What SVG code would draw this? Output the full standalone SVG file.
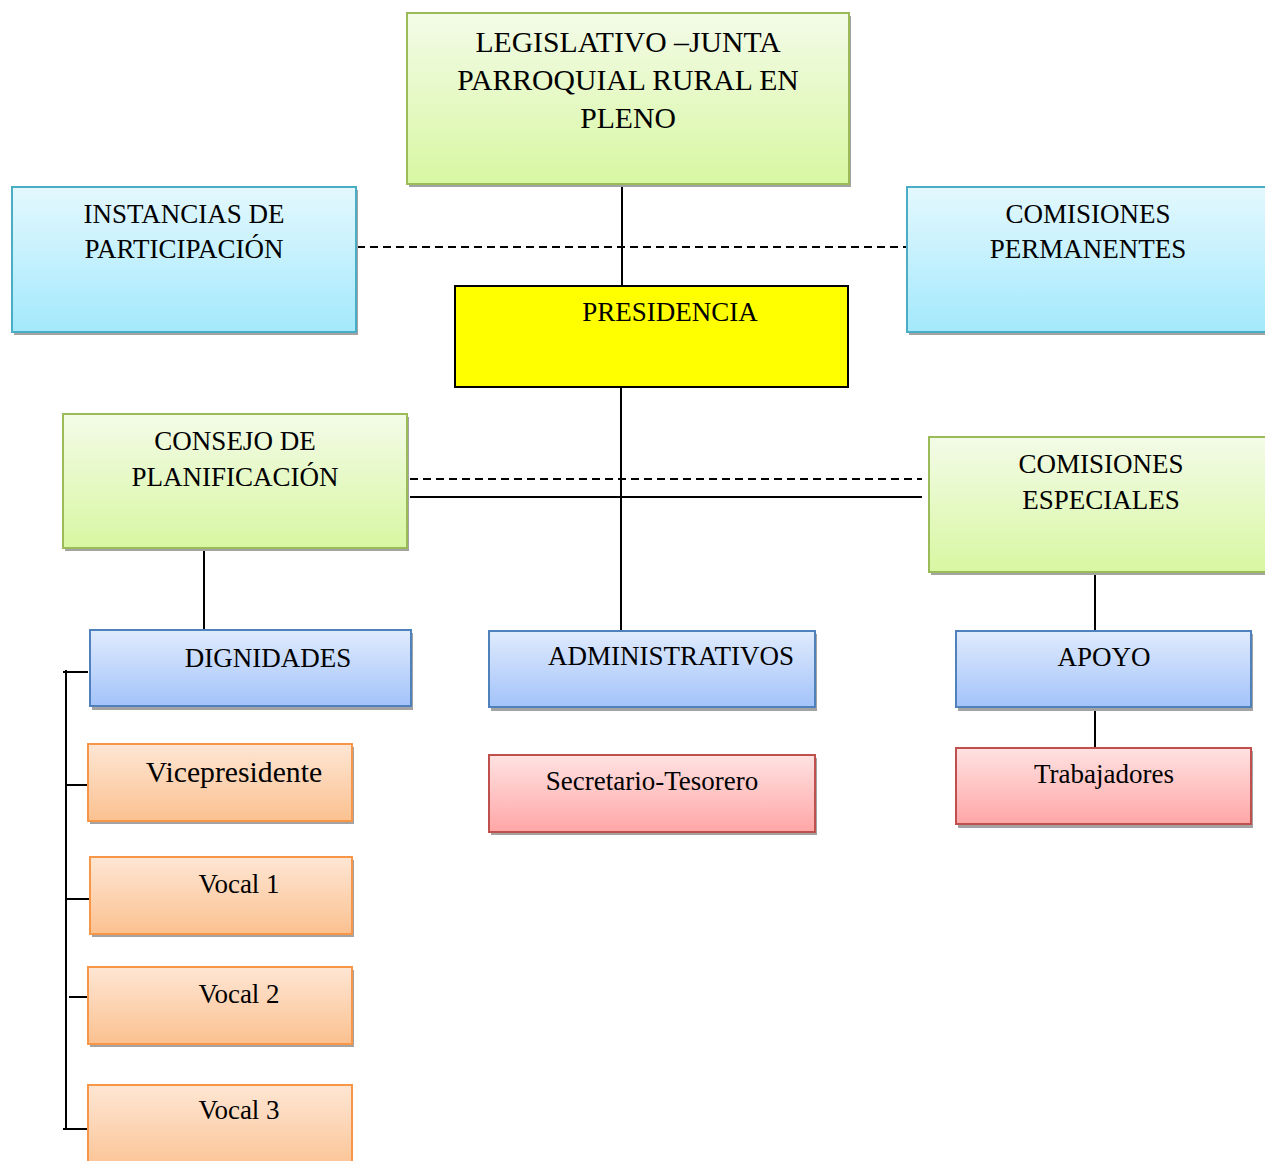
<svg xmlns="http://www.w3.org/2000/svg" width="1265" height="1161" viewBox="0 0 1265 1161">
<defs>
<linearGradient id="gGreen" x1="0" y1="0" x2="0" y2="1"><stop offset="0" stop-color="#f3fbe8"/><stop offset="1" stop-color="#d8f7a2"/></linearGradient>
<linearGradient id="gCyan" x1="0" y1="0" x2="0" y2="1"><stop offset="0" stop-color="#e4f8fe"/><stop offset="1" stop-color="#a3e9fc"/></linearGradient>
<linearGradient id="gBlue" x1="0" y1="0" x2="0" y2="1"><stop offset="0" stop-color="#e0ebfd"/><stop offset="1" stop-color="#a3c3fa"/></linearGradient>
<linearGradient id="gOrange" x1="0" y1="0" x2="0" y2="1"><stop offset="0" stop-color="#fee6d4"/><stop offset="1" stop-color="#fbc190"/></linearGradient>
<linearGradient id="gRed" x1="0" y1="0" x2="0" y2="1"><stop offset="0" stop-color="#ffe2e2"/><stop offset="1" stop-color="#ffa6a6"/></linearGradient>
</defs>
<style>
.sh{fill:#a3a3a3}
.green{fill:url(#gGreen);stroke:#9bbb59;stroke-width:2}
.cyan{fill:url(#gCyan);stroke:#4bacc6;stroke-width:2}
.blue{fill:url(#gBlue);stroke:#4f81bd;stroke-width:2}
.orange{fill:url(#gOrange);stroke:#f79646;stroke-width:2}
.red{fill:url(#gRed);stroke:#c0504d;stroke-width:2}
.yellow{fill:#ffff00;stroke:#000;stroke-width:2}
text{font-family:"Liberation Serif","Times New Roman",serif;font-size:27px;fill:#000;text-anchor:middle}
.big{font-size:29.7px}
.vp{font-size:29.7px}
.ln{stroke:#000;stroke-width:2;fill:none}
.dash{stroke:#000;stroke-width:1.8;fill:none;stroke-dasharray:8 5}
</style>
<g id="connectors">
<line class="ln" x1="622" y1="185" x2="622" y2="286"/>
<line class="ln" x1="621" y1="387" x2="621" y2="630"/>
<line class="dash" x1="357" y1="247" x2="906" y2="247"/>
<line class="dash" x1="410" y1="479" x2="922" y2="479"/>
<line class="ln" x1="410" y1="497" x2="922" y2="497"/>
<line class="ln" x1="204" y1="550" x2="204" y2="630"/>
<line class="ln" x1="1095" y1="574" x2="1095" y2="631"/>
<line class="ln" x1="1095" y1="709" x2="1095" y2="748"/>
<line class="ln" x1="66" y1="670" x2="66" y2="1130"/>
<line class="ln" x1="63" y1="672" x2="88" y2="672"/>
<line class="ln" x1="65" y1="785" x2="90" y2="785"/>
<line class="ln" x1="65" y1="899" x2="90" y2="899"/>
<line class="ln" x1="69" y1="997" x2="93" y2="997"/>
<line class="ln" x1="63" y1="1129" x2="88" y2="1129"/>
</g>
<g id="legislativo">
<rect class="sh" x="409" y="16" width="442" height="171"/>
<rect class="green" x="407" y="13" width="442" height="171"/>
<text class="big" x="628" y="52">LEGISLATIVO –JUNTA</text>
<text class="big" x="628" y="90">PARROQUIAL RURAL EN</text>
<text class="big" x="628" y="128">PLENO</text>
</g>
<g id="instancias">
<rect class="sh" x="14" y="190" width="344" height="145"/>
<rect class="cyan" x="12" y="187" width="344" height="145"/>
<text x="184" y="223">INSTANCIAS DE</text>
<text x="184" y="258">PARTICIPACIÓN</text>
</g>
<g id="permanentes">
<rect class="sh" x="909" y="190" width="360" height="145"/>
<rect class="cyan" x="907" y="187" width="360" height="145"/>
<text x="1088" y="223">COMISIONES</text>
<text x="1088" y="258">PERMANENTES</text>
</g>
<g id="presidencia">
<rect class="yellow" x="455" y="286" width="393" height="101"/>
<text x="670" y="321">PRESIDENCIA</text>
</g>
<g id="consejo">
<rect class="sh" x="65" y="417" width="344" height="134"/>
<rect class="green" x="63" y="414" width="344" height="134"/>
<text x="235" y="450">CONSEJO DE</text>
<text x="235" y="486">PLANIFICACIÓN</text>
</g>
<g id="especiales">
<rect class="sh" x="931" y="440" width="340" height="135"/>
<rect class="green" x="929" y="437" width="340" height="135"/>
<text x="1101" y="473">COMISIONES</text>
<text x="1101" y="509">ESPECIALES</text>
</g>
<g id="dignidades">
<rect class="sh" x="92" y="633" width="321" height="77"/>
<rect class="blue" x="90" y="630" width="321" height="76"/>
<text x="268" y="667">DIGNIDADES</text>
</g>
<g id="administrativos">
<rect class="sh" x="491" y="634" width="326" height="77"/>
<rect class="blue" x="489" y="631" width="326" height="76"/>
<text x="671" y="665">ADMINISTRATIVOS</text>
</g>
<g id="apoyo">
<rect class="sh" x="958" y="634" width="295" height="77"/>
<rect class="blue" x="956" y="631" width="295" height="76"/>
<text x="1104" y="666">APOYO</text>
</g>
<g id="secretario">
<rect class="sh" x="491" y="758" width="326" height="77"/>
<rect class="red" x="489" y="755" width="326" height="77"/>
<text x="652" y="790">Secretario-Tesorero</text>
</g>
<g id="trabajadores">
<rect class="sh" x="958" y="751" width="295" height="77"/>
<rect class="red" x="956" y="748" width="295" height="76"/>
<text x="1104" y="783">Trabajadores</text>
</g>
<g id="vicepresidente">
<rect class="sh" x="90" y="747" width="264" height="77"/>
<rect class="orange" x="88" y="744" width="264" height="77"/>
<text class="vp" x="234" y="782">Vicepresidente</text>
</g>
<g id="vocal1">
<rect class="sh" x="92" y="860" width="262" height="77"/>
<rect class="orange" x="90" y="857" width="262" height="77"/>
<text x="239" y="893">Vocal 1</text>
</g>
<g id="vocal2">
<rect class="sh" x="90" y="970" width="264" height="77"/>
<rect class="orange" x="88" y="967" width="264" height="77"/>
<text x="239" y="1003">Vocal 2</text>
</g>
<g id="vocal3">
<rect class="orange" x="88" y="1085" width="264" height="90"/>
<text x="239" y="1119">Vocal 3</text>
</g>
</svg>
